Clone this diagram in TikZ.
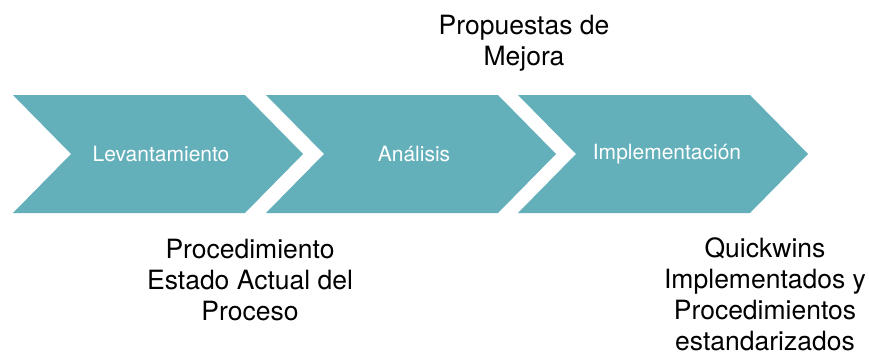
\documentclass[tikz,border=0pt]{standalone}
\usepackage{fontspec}
\setmainfont{TeX Gyre Heros}
\usetikzlibrary{positioning}
\definecolor{chevteal}{RGB}{99,176,187}

\begin{document}
\begin{tikzpicture}[x=1pt,y=-1pt,
  chevron/.style={fill=chevteal, draw=none},
  steplabel/.style={text=white, font=\fontsize{21}{25}\selectfont},
  note/.style={align=center, inner sep=0pt, font=\fontsize{26.5}{31}\selectfont}]
\useasboundingbox (0,0) rectangle (869,356);

% Levantamiento
\fill[chevron] (13,95) -- (245,95) -- (303,154) -- (245,213) -- (13,213) -- (71,154) -- cycle;
\node[steplabel] (lev) at (161,154) {Levantamiento};

% Analisis
\fill[chevron] (266,95) -- (498,95) -- (556,154) -- (498,213) -- (266,213) -- (324,154) -- cycle;
\node[steplabel] (ana) at (414,154) {Análisis};

% Implementacion
\fill[chevron] (518,95) -- (750,95) -- (808,154) -- (750,213) -- (518,213) -- (576,154) -- cycle;
\node[steplabel] (imp) at (667,154) {Implementación};

% notes
\node[note, anchor=north] (mejora) at (524,15) {Propuestas de\\Mejora};
\node[note, anchor=north] (estado) at (250,239) {Procedimiento\\Estado Actual del\\Proceso};
\node[note, anchor=north] (quick) at (765,237) {Quickwins\\Implementados y\\Procedimientos\\estandarizados};
\end{tikzpicture}
\end{document}
